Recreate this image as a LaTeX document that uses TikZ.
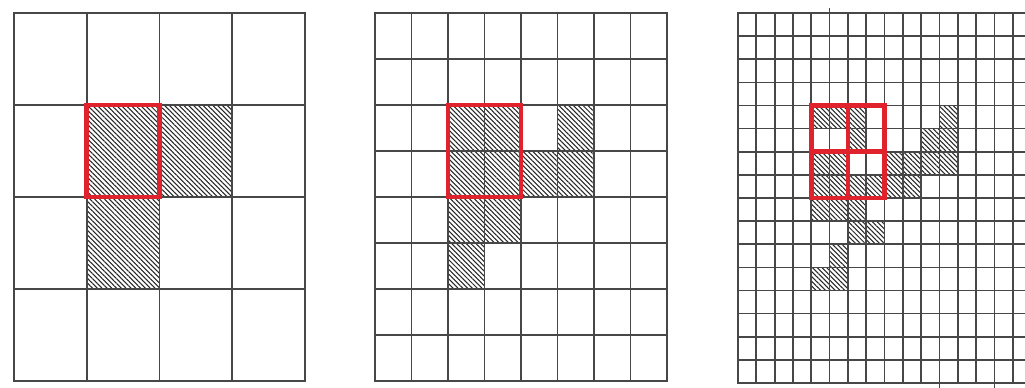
\documentclass[tikz,border=0pt]{standalone}
\usetikzlibrary{patterns.meta}
\definecolor{boxred}{RGB}{224,34,44}
\tikzset{
  gridline/.style={line width=1.7pt, draw=black!72, line cap=rect},
  hatch/.style={pattern={Lines[angle=-45,distance=3.4pt,line width=1.05pt]}, pattern color=black!85},
  redbox/.style={line width=4.8pt, draw=boxred, line join=miter},
}
\begin{document}
\begin{tikzpicture}[x=1pt,y=-1pt]
\fill[white] (0,0) rectangle (1025,388);
\useasboundingbox (0,0) rectangle (1025,388);
\clip (0,0) rectangle (1025,388);
% ---------- grid 1 (4x4)
\def\xa{14}\def\wa{72.75}\def\ya{13}\def\ha{92}
\foreach \c/\r in {1/1,2/1,1/2}
  \fill[hatch] ({\xa+\c*\wa},{\ya+\r*\ha}) rectangle ++(\wa,\ha);
\foreach \i in {0,...,4} {
  \draw[gridline] ({\xa+\i*\wa},\ya) -- ++(0,{4*\ha});
  \draw[gridline] (\xa,{\ya+\i*\ha}) -- ++({4*\wa},0);
}
\draw[redbox] ({\xa+\wa},{\ya+\ha}) rectangle ++(\wa,\ha);
% ---------- grid 2 (8x8)
\def\xb{375}\def\wb{36.5}\def\yb{13}\def\hb{46}
\foreach \c/\r in {2/2,3/2,5/2,2/3,3/3,4/3,5/3,2/4,3/4,2/5}
  \fill[hatch] ({\xb+\c*\wb},{\yb+\r*\hb}) rectangle ++(\wb,\hb);
\foreach \i in {0,...,8} {
  \draw[gridline] ({\xb+\i*\wb},\yb) -- ++(0,{8*\hb});
  \draw[gridline] (\xb,{\yb+\i*\hb}) -- ++({8*\wb},0);
}
\draw[redbox] ({\xb+2*\wb},{\yb+2*\hb}) rectangle ++({2*\wb},{2*\hb});
% ---------- grid 3 (16x16)
\def\xc{738}\def\wc{18.32}\def\yc{13}\def\hc{23.125}
\foreach \c/\r in {4/4,5/4,6/4,11/4,
                   6/5,10/5,11/5,
                   4/6,5/6,8/6,9/6,10/6,11/6,
                   4/7,5/7,6/7,7/7,8/7,9/7,
                   4/8,5/8,6/8,
                   6/9,7/9,
                   5/10,
                   4/11,5/11}
  \fill[hatch] ({\xc+\c*\wc},{\yc+\r*\hc}) rectangle ++(\wc,\hc);
\foreach \i in {0,...,16} {
  \draw[gridline] ({\xc+\i*\wc},\yc) -- ++(0,{16*\hc});
  \draw[gridline] (\xc,{\yc+\i*\hc}) -- ++({16*\wc},0);
}
\draw[gridline] ({\xc+5*\wc},9) -- ({\xc+5*\wc},\yc);
\draw[gridline] ({\xc+11*\wc},{\yc+16*\hc}) -- ({\xc+11*\wc},388);
\draw[gridline] ({\xc+14*\wc},{\yc+16*\hc}) -- ({\xc+14*\wc},388);
\draw[redbox] ({\xc+4*\wc},{\yc+4*\hc}) rectangle ++({4*\wc},{4*\hc});
\draw[redbox] ({\xc+6*\wc},{\yc+4*\hc}) -- ++(0,{4*\hc});
\draw[redbox] ({\xc+4*\wc},{\yc+6*\hc}) -- ++({4*\wc},0);
\end{tikzpicture}
\end{document}
